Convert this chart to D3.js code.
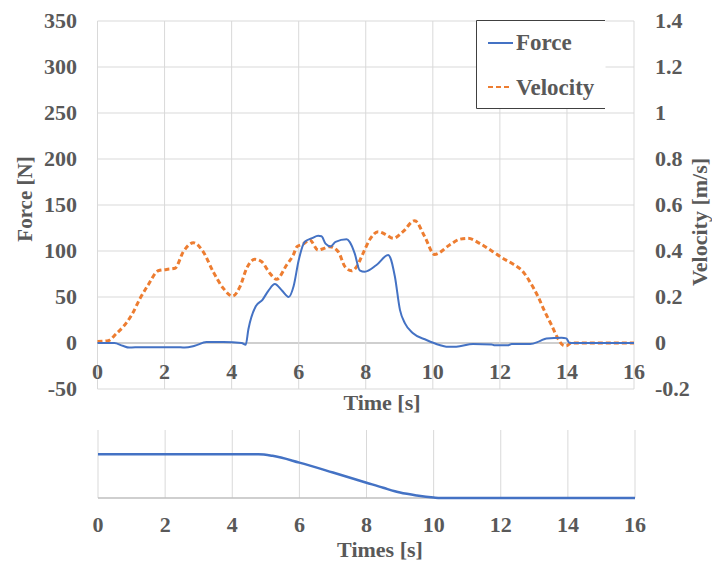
<!DOCTYPE html>
<html>
<head>
<meta charset="utf-8">
<script src="https://cdn.jsdelivr.net/npm/d3@7"></script>
<style>
  html, body { margin: 0; padding: 0; background: #fff; }
  svg { display: block; }
</style>
</head>
<body>
<svg id="chart" width="712" height="563"></svg>
<script>
// Time ticks shared by both panels
const timeTicks = [0, 2, 4, 6, 8, 10, 12, 14, 16];
const forceTicks = [-50, 0, 50, 100, 150, 200, 250, 300, 350];
const velocityTicks = [-0.2, 0, 0.2, 0.4, 0.6, 0.8, 1, 1.2, 1.4];

// Force [N] over time [s]
const forceTime = [0, 0.5, 0.75, 0.95, 1.3, 2.0, 2.35, 2.6, 2.9, 3.25, 3.75, 4.3, 4.42, 4.5, 4.72, 4.92, 5.1, 5.29, 5.5, 5.7, 5.85, 6.0, 6.18, 6.4, 6.58, 6.68, 6.8, 6.95, 7.1, 7.43, 7.52, 7.67, 7.82, 7.97, 8.32, 8.67, 8.73, 8.87, 9.02, 9.17, 9.41, 9.81, 10.2, 10.4, 10.7, 11.2, 11.75, 11.85, 12.25, 12.35, 12.9, 13.19, 13.39, 13.84, 13.98, 14.08, 14.2, 16];
const forceValues = [0, 0, -3, -5, -4.5, -4.5, -4.5, -5, -3, 1, 1, 0, -2, 15, 40, 47, 57, 64, 57, 50, 62, 90, 110, 114, 116.5, 116, 108, 105, 110, 112.7, 110, 97.5, 79, 77.5, 84.8, 95.6, 93, 72, 36, 21.4, 10.5, 3.3, -2.2, -4, -4, -1, -1.5, -2.5, -2.5, -1.2, -1.2, 2, 5, 5.8, 5, 0, 0, 0];

// Velocity [m/s] over time [s]
const velocityTime = [0, 0.32, 0.57, 0.77, 1.02, 1.27, 1.51, 1.81, 2.06, 2.31, 2.56, 2.86, 3.15, 3.45, 3.75, 4.03, 4.25, 4.45, 4.69, 4.89, 5.14, 5.34, 5.64, 5.84, 5.95, 6.13, 6.33, 6.58, 6.73, 6.93, 7.18, 7.38, 7.58, 7.73, 7.92, 8.12, 8.37, 8.62, 8.82, 9.11, 9.46, 9.76, 10.05, 10.5, 10.8, 11.05, 11.4, 11.75, 12.05, 12.39, 12.69, 12.89, 13.14, 13.34, 13.54, 13.73, 13.88, 13.98, 14.13, 16];
const velocityValues = [0.006, 0.01, 0.042, 0.071, 0.122, 0.194, 0.252, 0.314, 0.32, 0.325, 0.397, 0.436, 0.397, 0.31, 0.238, 0.204, 0.245, 0.325, 0.364, 0.354, 0.303, 0.277, 0.339, 0.383, 0.419, 0.43, 0.448, 0.404, 0.41, 0.419, 0.397, 0.332, 0.314, 0.332, 0.39, 0.45, 0.484, 0.47, 0.455, 0.484, 0.532, 0.462, 0.385, 0.426, 0.451, 0.455, 0.433, 0.401, 0.372, 0.343, 0.31, 0.267, 0.201, 0.136, 0.078, 0.02, -0.009, -0.012, 0, 0];

// Lower panel: relative position over time
const positionTime = [0, 4.78, 5.2, 6, 7, 8, 8.5, 9, 9.5, 10, 10.2, 16];
const positionValues = [0.643, 0.643, 0.62, 0.52, 0.375, 0.225, 0.15, 0.08, 0.037, 0.007, 0, 0];

const BLUE = "#4472C4", ORANGE = "#ED7D31", GRID = "#d9d9d9", AXIS = "#bfbfbf";

const svg = d3.select("#chart")
  .attr("font-family", "Liberation Serif")
  .attr("font-weight", "bold")
  .attr("fill", "#595959");

// ---------- upper panel ----------
const x = d3.scaleLinear().domain([0, 16]).range([97.5, 634]);
const yF = d3.scaleLinear().domain([-50, 350]).range([389, 21]);
const yV = d3.scaleLinear().domain([-0.2, 1.4]).range([389, 21]);

const upper = svg.append("g");

upper.append("g").selectAll("line").data(forceTicks).join("line")
  .attr("x1", x(0)).attr("x2", x(16))
  .attr("y1", d => yF(d)).attr("y2", d => yF(d))
  .attr("stroke", d => d === 0 ? AXIS : GRID).attr("stroke-width", d => d === 0 ? 1.5 : 1);
upper.append("g").selectAll("line").data(timeTicks).join("line")
  .attr("x1", d => x(d)).attr("x2", d => x(d))
  .attr("y1", yF(350)).attr("y2", yF(-50))
  .attr("stroke", GRID);

// left axis labels
upper.append("g").selectAll("text").data(forceTicks).join("text")
  .attr("x", 77).attr("y", d => yF(d) + 7)
  .attr("text-anchor", "end").attr("font-size", 22)
  .text(d => d);

// right axis labels
upper.append("g").selectAll("text").data(velocityTicks).join("text")
  .attr("x", 655).attr("y", d => yV(d) + 7)
  .attr("text-anchor", "start").attr("font-size", 22)
  .text(d => d);

// time labels under the zero line
upper.append("g").selectAll("text").data(timeTicks).join("text")
  .attr("x", d => x(d)).attr("y", 379)
  .attr("text-anchor", "middle").attr("font-size", 22)
  .text(d => d);

upper.append("text").attr("x", 382).attr("y", 410)
  .attr("text-anchor", "middle").attr("font-size", 22).text("Time [s]");

upper.append("text").attr("transform", "translate(32,199) rotate(-90)")
  .attr("text-anchor", "middle").attr("font-size", 21).text("Force [N]");
upper.append("text").attr("transform", "translate(707,222) rotate(-90)")
  .attr("text-anchor", "middle").attr("font-size", 22).text("Velocity [m/s]");

const forceLine = d3.line().x(d => x(d[0])).y(d => yF(d[1])).curve(d3.curveMonotoneX);
const velLine = d3.line().x(d => x(d[0])).y(d => yV(d[1])).curve(d3.curveMonotoneX);

upper.append("path").datum(d3.zip(velocityTime, velocityValues))
  .attr("d", velLine).attr("fill", "none").attr("stroke", ORANGE)
  .attr("stroke-width", 3).attr("stroke-dasharray", "5,3");
upper.append("path").datum(d3.zip(forceTime, forceValues))
  .attr("d", forceLine).attr("fill", "none").attr("stroke", BLUE)
  .attr("stroke-width", 2);

// legend
const lg = upper.append("g");
lg.append("rect").attr("x", 476.5).attr("y", 20.5).attr("width", 129).attr("height", 88)
  .attr("fill", "#fff");
lg.append("path").attr("d", "M605,20.5H476.5V108.5H605")
  .attr("fill", "none").attr("stroke", "#404040").attr("stroke-width", 1);
lg.append("line").attr("x1", 488).attr("x2", 513).attr("y1", 43).attr("y2", 43)
  .attr("stroke", BLUE).attr("stroke-width", 2);
lg.append("text").attr("x", 516).attr("y", 50).attr("font-size", 23).text("Force");
lg.append("line").attr("x1", 488).attr("x2", 512).attr("y1", 87).attr("y2", 87)
  .attr("stroke", ORANGE).attr("stroke-width", 2).attr("stroke-dasharray", "5,3");
lg.append("text").attr("x", 516).attr("y", 95).attr("font-size", 23).text("Velocity");

// ---------- lower panel ----------
const x2 = d3.scaleLinear().domain([0, 16]).range([98, 635]);
const yP = d3.scaleLinear().domain([0, 1]).range([498, 430]);
const lower = svg.append("g");

lower.append("g").selectAll("line").data(timeTicks).join("line")
  .attr("x1", d => x2(d)).attr("x2", d => x2(d))
  .attr("y1", yP(1)).attr("y2", yP(0))
  .attr("stroke", GRID);
lower.append("line").attr("x1", x2(0)).attr("x2", x2(16))
  .attr("y1", yP(0)).attr("y2", yP(0)).attr("stroke", AXIS).attr("stroke-width", 1.5);

lower.append("g").selectAll("text").data(timeTicks).join("text")
  .attr("x", d => x2(d)).attr("y", 532)
  .attr("text-anchor", "middle").attr("font-size", 22)
  .text(d => d);
lower.append("text").attr("x", 380).attr("y", 557)
  .attr("text-anchor", "middle").attr("font-size", 22).text("Times [s]");

const posLine = d3.line().x(d => x2(d[0])).y(d => yP(d[1])).curve(d3.curveMonotoneX);
lower.append("path").datum(d3.zip(positionTime, positionValues))
  .attr("d", posLine).attr("fill", "none").attr("stroke", BLUE).attr("stroke-width", 2.5);
</script>
</body>
</html>
